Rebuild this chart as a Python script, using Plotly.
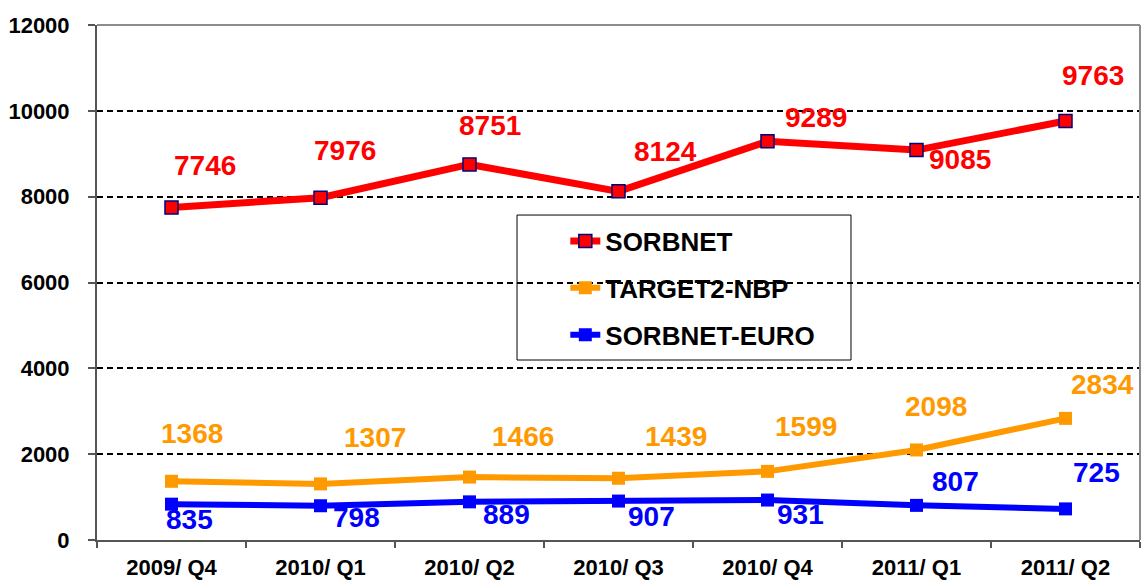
import plotly.graph_objects as go

categories = ["2009/ Q4", "2010/ Q1", "2010/ Q2", "2010/ Q3", "2010/ Q4", "2011/ Q1", "2011/ Q2"]
sorbnet = [7746, 7976, 8751, 8124, 9289, 9085, 9763]
target2 = [1368, 1307, 1466, 1439, 1599, 2098, 2834]
sorbnet_euro = [835, 798, 889, 907, 931, 807, 725]
y_ticks = [0, 2000, 4000, 6000, 8000, 10000, 12000]
y_tick_text = ["0", "2000", "4000", "6000", "8000", "10000", "12000"]

# label offsets (pixels) for the data labels: (xshift, yshift)
off_sorbnet = [(33, 42), (24, 47), (20, 39), (47, 40), (48, 24), (43, -9), (27, 46)]
off_target2 = [(20, 48), (54, 46), (53, 41), (57, 42), (38, 45), (19, 43), (37, 34)]
off_euro = [(18, -15), (36, -12), (37, -13), (33, -15), (33, -14), (39, 24), (31, 36)]

FONT = "Liberation Sans, Arial, sans-serif"
RED = "#FF0000"
ORANGE = "#FF9900"
BLUE = "#0000FF"

fig = go.Figure()
series = [
    ("SORBNET", sorbnet, RED, dict(color=RED, size=13, symbol="square", line=dict(color="#000080", width=1.5)), 7, off_sorbnet),
    ("TARGET2-NBP", target2, ORANGE, dict(color=ORANGE, size=13, symbol="square", line=dict(width=0)), 6, off_target2),
    ("SORBNET-EURO", sorbnet_euro, BLUE, dict(color=BLUE, size=13, symbol="square", line=dict(width=0)), 6, off_euro),
]
annotations = []
for i, (name, vals, col, mk, lw, offs) in enumerate(series):
    fig.add_trace(go.Scatter(
        x=categories, y=vals, name=name, mode="lines+markers",
        line=dict(color=col, width=lw), marker=mk, legendgroup=f"g{i}",
    ))
    for c, v, (dx, dy) in zip(categories, vals, offs):
        annotations.append(dict(
            x=c, y=v, xref="x", yref="y", text=str(v), showarrow=False,
            xshift=dx, yshift=dy,
            font=dict(family=FONT, size=28, color=col, weight="bold"),
        ))

shapes = [
    # top and right plot border
    dict(type="line", xref="paper", yref="paper", x0=0, x1=1, y0=1, y1=1,
         line=dict(color="#8C8C8C", width=2), layer="above"),
    dict(type="line", xref="paper", yref="paper", x0=1, x1=1, y0=0, y1=1,
         line=dict(color="#8C8C8C", width=2), layer="above"),
    # legend frame
    dict(type="rect", xref="paper", yref="paper", x0=0.4027, x1=0.7229, y0=0.3495, y1=0.631,
         line=dict(color="black", width=1), fillcolor="rgba(0,0,0,0)", layer="above"),
]

fig.update_layout(
    width=1141, height=580,
    margin=dict(l=97, r=1, t=25, b=40),
    paper_bgcolor="white", plot_bgcolor="white",
    font=dict(family=FONT, color="black"),
    showlegend=True,
    legend=dict(
        x=0.449, y=0.489, xanchor="left", yanchor="middle",
        bgcolor="rgba(0,0,0,0)", borderwidth=0,
        font=dict(family=FONT, size=26, color="black", weight="bold"),
        tracegroupgap=10,
    ),
    annotations=annotations,
    shapes=shapes,
)
fig.update_xaxes(
    type="category", range=[-0.5, len(categories) - 0.5],
    tickson="boundaries", ticks="outside", ticklen=6, tickwidth=1.5,
    tickcolor="#555555", showgrid=False, showline=True, linecolor="#555555", linewidth=2,
    tickfont=dict(family=FONT, size=22, color="black", weight="bold"),
    ticklabelstandoff=7, automargin=False,
)
fig.update_yaxes(
    range=[0, 12000], tickvals=y_ticks, ticktext=y_tick_text, ticks="outside", ticklen=7, tickwidth=1.5,
    tickcolor="#555555", showline=True, linecolor="#555555", linewidth=2,
    showgrid=True, gridcolor="black", gridwidth=2, griddash="6px,4px",
    zeroline=False,
    tickfont=dict(family=FONT, size=22, color="black", weight="bold"),
    ticklabelstandoff=14, automargin=False,
)

fig.write_html("out.html", config={"displayModeBar": False},
               post_script="document.body.style.margin='0';document.body.style.padding='0';")
